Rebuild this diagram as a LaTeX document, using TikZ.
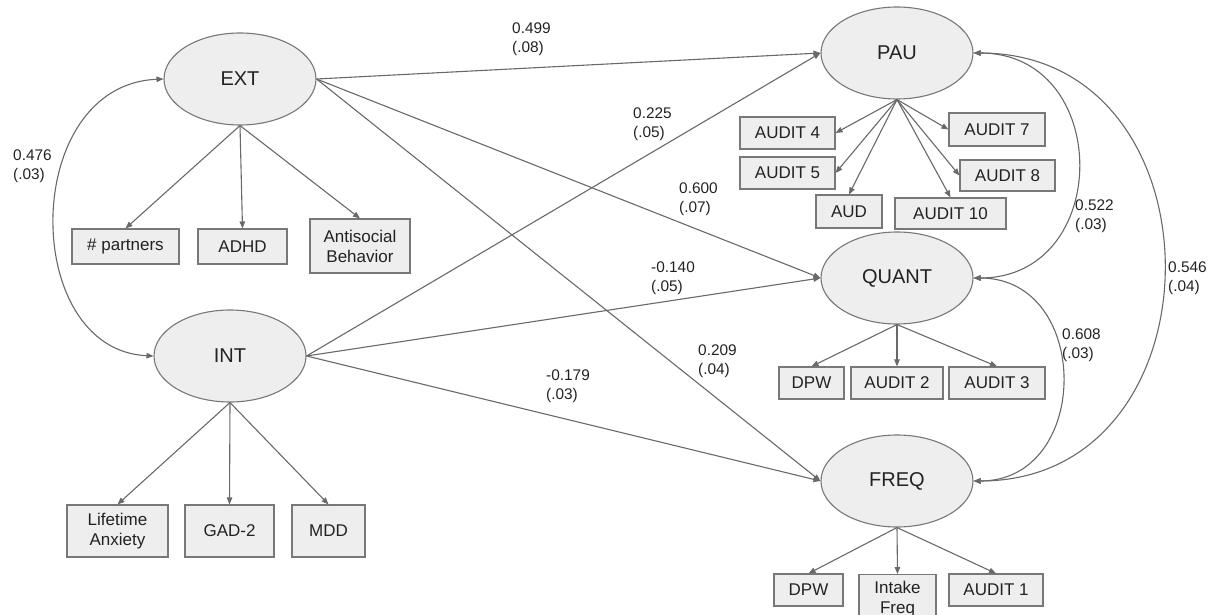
\documentclass[tikz,border=0pt]{standalone}
\usepackage{fontspec}
\setmainfont{Liberation Sans}
\usetikzlibrary{arrows.meta,shapes.geometric}

\begin{document}
\begin{tikzpicture}[
  x=1pt, y=-1pt,
  % --- node styles ---
  lat/.style={ellipse, draw=cEdge, fill=cFill, line width=1.1pt,
              minimum width=152pt, minimum height=92pt, inner sep=0pt,
              text=cText, font=\fontsize{20}{24}\selectfont},
  ind/.style={rectangle, draw=cEdge, fill=cFill, line width=1.1pt,
              minimum width=#1, minimum height=32pt, inner sep=0pt,
              align=center, text=cText, font=\fontsize{17}{20}\selectfont},
  ind/.default=90pt,
  reg/.style={-{Triangle[length=7pt,width=5.5pt]},
              draw=cLine, line width=1.1pt},
  cov/.style={{Triangle[length=7pt,width=5.5pt]}-{Triangle[length=7pt,width=5.5pt]},
              draw=cLine, line width=1.1pt},
  lbl/.style={anchor=north west, inner sep=0pt, align=left,
              text=cText, font=\fontsize{15.4}{19}\selectfont},
]
  % --- Colours ---
  \definecolor{cFill}{RGB}{238,238,238}
  \definecolor{cEdge}{RGB}{120,120,120}
  \definecolor{cLine}{RGB}{105,105,105}
  \definecolor{cText}{RGB}{34,34,34}

  % --- Canvas ---
  \useasboundingbox (0,0) rectangle (1213,615);
  \clip (0,0) rectangle (1213,615);

  % --- Latent factors ---
  \node[lat] (ext)   at (240,79)  {EXT};
  \node[lat] (int)   at (230,356) {INT};
  \node[lat] (pau)   at (897,53)  {PAU};
  \node[lat] (quant) at (897,278) {QUANT};
  \node[lat] (freq)  at (897,481) {FREQ};

  % --- EXT indicators ---
  \node[ind=107pt, minimum height=35pt] (partners) at (125.5,246.5) {\# partners};
  \node[ind=89pt,  minimum height=35pt] (adhd)     at (242.5,246.5) {ADHD};
  \node[ind=100pt, minimum height=54pt] (antisoc)  at (360,246)     {Antisocial\\Behavior};

  % --- INT indicators ---
  \node[ind=101pt, minimum height=52pt] (lifeanx) at (117.5,531) {Lifetime\\Anxiety};
  \node[ind=89pt,  minimum height=52pt] (gad)     at (229.5,531) {GAD-2};
  \node[ind=73pt,  minimum height=52pt] (mdd)     at (328.5,531) {MDD};

  % --- PAU indicators ---
  \node[ind=95pt]                       (audit4)  at (787.5,133)   {AUDIT 4};
  \node[ind=95pt]                       (audit5)  at (787.5,173)   {AUDIT 5};
  \node[ind=66pt,  minimum height=33pt] (aud)     at (849,211.5)   {AUD};
  \node[ind=111pt, minimum height=31pt] (audit10) at (950.5,213.5) {AUDIT 10};
  \node[ind=96pt,  minimum height=33pt] (audit7)  at (997,129.5)   {AUDIT 7};
  \node[ind=95pt,  minimum height=31pt] (audit8)  at (1007.5,175.5) {AUDIT 8};

  % --- QUANT indicators ---
  \node[ind=65pt] (qdpw)   at (811.5,383) {DPW};
  \node[ind=92pt] (audit2) at (897,383)   {AUDIT 2};
  \node[ind=96pt] (audit3) at (997,383)   {AUDIT 3};

  % --- FREQ indicators (bottom box runs off the page) ---
  \node[ind=69pt] (fdpw) at (808.5,590) {DPW};
  \node[ind=77pt, minimum height=50pt, anchor=north] (intake) at (897.5,574) {Intake\\Freq};
  \node[ind=94pt] (audit1) at (996,590) {AUDIT 1};

  % --- Loadings ---
  \draw[reg] (ext.south) -- (partners.north);
  \draw[reg] (ext.south) -- (adhd.north);
  \draw[reg] (ext.south) -- (antisoc.north);
  \draw[reg] (int.south) -- (lifeanx.north);
  \draw[reg] (int.south) -- (gad.north);
  \draw[reg] (int.south) -- (mdd.north);
  \draw[reg] (pau.south) -- (audit4.east);
  \draw[reg] (pau.south) -- (audit5.east);
  \draw[reg] (pau.south) -- (aud.north);
  \draw[reg] (pau.south) -- (audit10.north);
  \draw[reg] (pau.south) -- (audit7.west);
  \draw[reg] (pau.south) -- (audit8.west);
  \draw[reg] (quant.south) -- (qdpw.north);
  \draw[reg] (quant.south) -- (audit2.north);
  \draw[reg] (quant.south) -- (audit3.north);
  \draw[reg] (freq.south) -- (fdpw.north);
  \draw[reg] (freq.south) -- (intake.north);
  \draw[reg] (freq.south) -- (audit1.north);

  % --- Regressions ---
  \draw[reg] (ext.east) -- (pau.west);
  \draw[reg] (ext.east) -- (quant.west);
  \draw[reg] (ext.east) -- (freq.west);
  \draw[reg] (int.east) -- (pau.west);
  \draw[reg] (int.east) -- (quant.west);
  \draw[reg] (int.east) -- (freq.west);

  % --- Covariances ---
  \draw[cov] (ext.west) .. controls (20,85) and (20,350) .. (int.west);
  \draw[cov] (pau.east) .. controls (1113,53) and (1113,278) .. (quant.east);
  \draw[cov] (pau.east) .. controls (1227,53) and (1227,481) .. (freq.east);
  \draw[cov] (quant.east) .. controls (1092,278) and (1092,481) .. (freq.east);

  % --- Estimates (SE) ---
  \node[lbl] (e476) at (13,150)   {0.476\\(.03)};
  \node[lbl] (e499) at (512,23)   {0.499\\(.08)};
  \node[lbl] (e225) at (633,108)  {0.225\\(.05)};
  \node[lbl] (e600) at (679,183)  {0.600\\(.07)};
  \node[lbl] (e140) at (651,262)  {-0.140\\(.05)};
  \node[lbl] (e209) at (698,345)  {0.209\\(.04)};
  \node[lbl] (e179) at (546,370)  {-0.179\\(.03)};
  \node[lbl] (e522) at (1075,200) {0.522\\(.03)};
  \node[lbl] (e546) at (1168,262) {0.546\\(.04)};
  \node[lbl] (e608) at (1062,329) {0.608\\(.03)};
\end{tikzpicture}
\end{document}
